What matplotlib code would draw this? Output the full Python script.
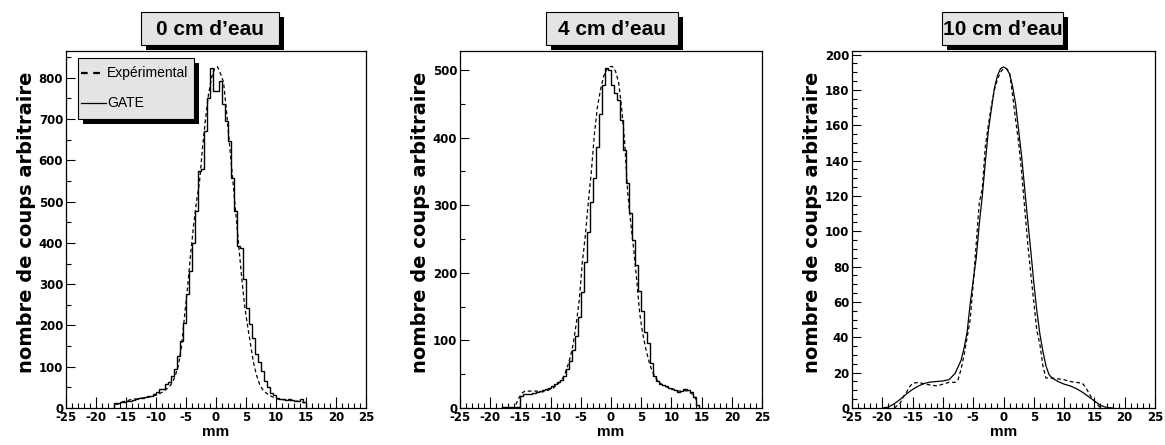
import matplotlib
matplotlib.use("Agg")
import matplotlib.pyplot as plt
from matplotlib.patches import Rectangle
from matplotlib.lines import Line2D
from matplotlib.ticker import MultipleLocator
import numpy as np

plt.rcParams['axes.unicode_minus'] = False
plt.rcParams['font.family'] = ['Liberation Sans', 'DejaVu Sans']
plt.rcParams['font.weight'] = 'bold'

# ---------------- data ----------------
titles = ["0 cm d\u2019eau", "4 cm d\u2019eau", "10 cm d\u2019eau"]
y_label = "nombre de coups arbitraire"
x_label = "mm"
legend_labels = ["Exp\u00e9rimental", "GATE"]
x_range = (-25, 25)
y_max = [865, 528, 202]

bin_width = 0.5

# Panel 1 (0 cm): GATE histogram, bins of 0.5 mm starting at -17 mm
gate0_start = -17.0
gate0 = [12, 12, 14, 15, 18, 18, 20, 22, 24, 25,
         27, 29, 30, 33, 38, 45, 47, 58, 64, 78,
         95, 126, 162, 205, 276, 331, 400, 478, 575, 578,
         672, 750, 823, 767, 769, 792, 736, 695, 646, 557,
         477, 392, 388, 312, 242, 203, 169, 131, 111, 90,
         65, 50, 37, 32, 25, 22, 22, 20, 22, 20,
         18, 18, 23, 15]
# Panel 1: experimental profile sampled every 0.5 mm from -16.75 mm
exp0_start = -16.75
exp0 = [8, 10, 14, 16, 18, 20, 22, 22, 24, 24,
        26, 26, 28, 30, 32, 36, 40, 46, 52, 62,
        80, 104, 150, 222, 290, 370, 440, 500, 548, 630,
        700, 760, 800, 822, 827, 810, 790, 720, 640, 560,
        480, 400, 320, 250, 200, 155, 110, 80, 58, 45,
        38, 32, 28, 25, 22, 20, 20, 19, 18, 18,
        17, 16, 15, 12]

# Panel 2 (4 cm)
gate4_start = -18.0
gate4 = [1, 1, 1, 1, 1, 1,
         18, 20, 21, 21, 22, 23, 25, 26, 28, 30,
         32, 35, 38, 41, 47, 57, 69, 86, 106, 135,
         172, 216, 260, 304, 340, 386, 435, 478, 503, 500,
         478, 466, 456, 426, 382, 333, 289, 249, 212, 173,
         143, 112, 96, 66, 48, 40, 36, 34, 32, 30,
         28, 26, 24, 25, 28, 27, 24, 16, 4]
exp4_start = -15.75
exp4 = [5, 15, 22, 25, 25, 25, 25, 25, 24, 24,
        25, 27, 28, 32, 36, 40, 48, 60, 75, 95,
        125, 160, 215, 255, 305, 350, 405, 445, 470, 490,
        500, 505, 505, 498, 482, 445, 395, 320, 275, 235,
        190, 140, 110, 88, 70, 56, 47, 40, 36, 33,
        31, 30, 28, 26, 25, 25, 26, 24, 22, 18,
        10]

# Panel 3 (10 cm): smooth curves
gate10_x = [-20, -19, -18, -17, -16, -15, -14, -13, -12, -11, -10, -9, -8, -7,
            -6.5, -6, -5.5, -5, -4.5, -4, -3.5, -3, -2.5, -2, -1.5, -1, -0.5,
            0, 0.5, 1, 1.5, 2, 2.5, 3, 3.5, 4, 4.5, 5, 5.5, 6, 6.5, 7, 7.5,
            8, 9, 10, 11, 12, 13, 14, 15, 16, 17, 18]
gate10_y = [0, 0.5, 2.5, 5, 8, 10.5, 12.5, 14, 14.7, 15, 15.3, 16, 19.5, 27,
            34, 43, 59, 72, 85, 104, 120, 139, 157, 169, 181, 188, 192,
            193, 192, 189, 182, 172, 157, 142, 124, 106, 89, 71, 55, 42, 32, 24, 19,
            17, 15, 13.5, 12.5, 11, 9, 6.5, 4, 1.5, 0.3, 0]
exp10_x = [-18, -17, -16.5, -16, -15.5, -15, -14, -13, -12, -11, -10, -9, -8,
           -7.5, -7, -6.5, -6, -5.5, -5, -4.5, -4, -3.5, -3, -2.5, -2, -1.5,
           -1, -0.5, 0, 0.5, 1, 1.5, 2, 2.5, 3, 3.5, 4, 4.5, 5, 5.5, 6, 6.5,
           7, 8, 9, 10, 11, 12, 13, 13.5, 14, 14.5, 15, 15.5, 16]
exp10_y = [0, 3, 6.5, 9, 12, 14, 14.5, 13.5, 13, 12.5, 13.5, 14.5, 14.5,
           16, 22, 30, 40, 50, 70, 93, 116, 124, 148, 160, 171, 180,
           186, 190, 192, 192, 190, 177, 163, 150, 133, 113, 93, 76, 60, 44, 36, 24,
           17, 17, 16.5, 16, 15, 14.5, 14, 12, 9, 6, 4, 2, 0]

# ---------------- layout ----------------
W, H = 1165, 445
fig = plt.figure(figsize=(W / 100, H / 100), dpi=100)
fig.patch.set_facecolor('white')

ax_lr = [(66, 366), (460, 762), (852, 1155)]
ax_top, ax_bot = 51, 408
y_major = [100, 100, 20]
y_minor = [50, 50, 5]
title_boxes = [(141, 279), (546, 678), (942, 1063)]
box_fill = '#e4e4e4'


def fx(x):
    return x / W


def fy(y):
    return 1 - y / H


axes = []
for i, (l, r) in enumerate(ax_lr):
    ax = fig.add_axes([l / W, (H - ax_bot) / H, (r - l) / W, (ax_bot - ax_top) / H])
    ax.set_xlim(*x_range)
    ax.set_ylim(0, y_max[i])
    ax.xaxis.set_major_locator(MultipleLocator(5))
    ax.xaxis.set_minor_locator(MultipleLocator(1))
    ax.yaxis.set_major_locator(MultipleLocator(y_major[i]))
    ax.yaxis.set_minor_locator(MultipleLocator(y_minor[i]))
    ax.tick_params(which='both', direction='in', top=False, right=False,
                   width=0.8, color='black')
    ax.tick_params(axis='x', which='major', length=8, pad=2)
    ax.tick_params(axis='x', which='minor', length=3.6)
    ax.tick_params(axis='y', which='major', length=6.5, pad=2)
    ax.tick_params(axis='y', which='minor', length=3.3)
    for lab in ax.get_xticklabels() + ax.get_yticklabels():
        lab.set_family(['DejaVu Sans'])
        lab.set_fontsize(8.5)
        lab.set_fontweight('bold')
    for s in ax.spines.values():
        s.set_linewidth(0.9)
        s.set_color('black')
    ax.set_xlabel(x_label, fontsize=11, fontweight='bold', va='center')
    ax.xaxis.set_label_coords(0.5, -0.068)
    ax.set_ylabel(y_label, fontsize=14, fontweight='bold',
                  family=['DejaVu Sans'], va='center')
    ax.yaxis.set_label_coords(-0.13, 0.52)
    axes.append(ax)

dash = (0, (3, 2.2))

# Panel 1
e0 = gate0_start + bin_width * np.arange(len(gate0) + 1)
axes[0].stairs(gate0, e0, color='black', lw=1.0, baseline=0)
x0 = exp0_start + bin_width * np.arange(len(exp0))
axes[0].plot(x0, exp0, color='black', lw=0.9, linestyle=dash)

# Panel 2
e4 = gate4_start + bin_width * np.arange(len(gate4) + 1)
axes[1].stairs(gate4, e4, color='black', lw=1.0, baseline=0)
x4 = exp4_start + bin_width * np.arange(len(exp4))
axes[1].plot(x4, exp4, color='black', lw=0.9, linestyle=dash)

# Panel 3
axes[2].plot(gate10_x, gate10_y, color='black', lw=0.9)
axes[2].plot(exp10_x, exp10_y, color='black', lw=0.9, linestyle=dash)

# ---------------- title boxes ----------------
shadow = 5
for (l, r), t in zip(title_boxes, titles):
    top, bot = 12, 45
    fig.add_artist(Rectangle((fx(l + shadow), fy(bot + shadow)), (r - l) / W, (bot - top) / H,
                             transform=fig.transFigure, facecolor='black',
                             edgecolor='black', lw=0))
    fig.add_artist(Rectangle((fx(l), fy(bot)), (r - l) / W, (bot - top) / H,
                             transform=fig.transFigure, facecolor=box_fill,
                             edgecolor='black', lw=0.8))
    fig.text(fx((l + r) / 2), fy((top + bot) / 2 + 1), t, ha='center', va='center',
             fontsize=15, fontweight='bold')

# ---------------- legend (panel 1) ----------------
lg_l, lg_r, lg_t, lg_b = 78, 194, 58, 119
fig.add_artist(Rectangle((fx(lg_l + shadow), fy(lg_b + shadow)), (lg_r - lg_l) / W,
                         (lg_b - lg_t) / H, transform=fig.transFigure,
                         facecolor='black', edgecolor='black', lw=0))
fig.add_artist(Rectangle((fx(lg_l), fy(lg_b)), (lg_r - lg_l) / W, (lg_b - lg_t) / H,
                         transform=fig.transFigure, facecolor=box_fill,
                         edgecolor='black', lw=0.8))
fig.add_artist(Line2D([fx(81), fx(103)], [fy(73), fy(73)], transform=fig.transFigure,
                      color='black', lw=1.6, linestyle=(0, (3, 2.5))))
fig.add_artist(Line2D([fx(81), fx(106)], [fy(103), fy(103)], transform=fig.transFigure,
                      color='black', lw=0.9))
fig.text(fx(107), fy(73), legend_labels[0], ha='left', va='center', fontsize=10,
         fontweight='normal')
fig.text(fx(107), fy(103), legend_labels[1], ha='left', va='center', fontsize=10,
         fontweight='normal')

fig.savefig('out.png', dpi=100, facecolor='white')
